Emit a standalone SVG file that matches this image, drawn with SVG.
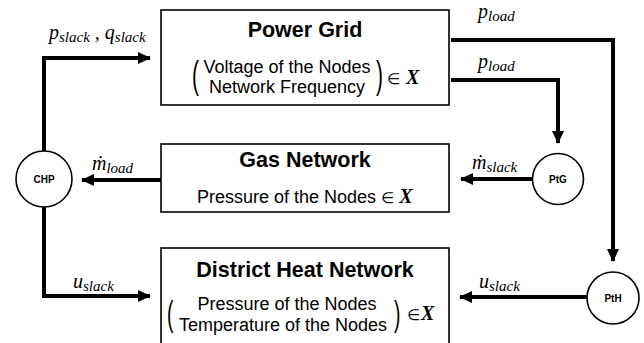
<svg xmlns="http://www.w3.org/2000/svg" width="644" height="343" viewBox="0 0 644 343">
<style>
.box{fill:#fff;stroke:#000;stroke-width:1.6}
.node{fill:#fff;stroke:#000;stroke-width:1.6}
.title{font-family:"Liberation Sans",Arial,sans-serif;font-weight:bold;font-size:21.5px;text-anchor:middle;fill:#000}
.body{font-family:"Liberation Sans",Arial,sans-serif;font-size:18px;fill:#000}
.par{font-family:"Liberation Sans",Arial,sans-serif;fill:#000}
.el{font-family:"DejaVu Sans",sans-serif;font-size:15px}
.X{font-family:"Liberation Serif",serif;font-weight:bold;font-style:italic;font-size:20px}
.small{font-family:"Liberation Sans",Arial,sans-serif;font-weight:bold;font-size:10px;text-anchor:middle;fill:#000}
.math{font-family:"Liberation Serif",serif;font-style:italic;font-size:20px;fill:#000}
.sub{font-size:15px}
.conn{fill:none;stroke:#000;stroke-width:4}
</style>
<defs>
<marker id="arr" markerUnits="userSpaceOnUse" markerWidth="14" markerHeight="12" refX="12" refY="6" orient="auto">
<path d="M0,0 L13,6 L0,12 Z" fill="#000"/>
</marker>
</defs>

<g id="connectors">
<path class="conn" d="M44,151 V58 H150" marker-end="url(#arr)"/>
<path class="conn" d="M44,207 V296 H150" marker-end="url(#arr)"/>
<path class="conn" d="M451,40 H613 V261" marker-end="url(#arr)"/>
<path class="conn" d="M451,80 H558 V143" marker-end="url(#arr)"/>
<path class="conn" d="M533,179 H461" marker-end="url(#arr)"/>
<path class="conn" d="M161,180 H82" marker-end="url(#arr)"/>
<path class="conn" d="M587,297 H460" marker-end="url(#arr)"/>
</g>

<g id="power-grid">
<rect class="box" x="161" y="10" width="288" height="95"/>
<text class="title" x="305" y="37">Power Grid</text>
<text class="par" font-size="38" transform="translate(192,88) scale(0.55,1)">(</text>
<text class="body" x="287" y="73" text-anchor="middle">Voltage of the Nodes</text>
<text class="body" x="287" y="93" text-anchor="middle">Network Frequency</text>
<text class="par" font-size="38" transform="translate(376,88) scale(0.55,1)">)</text>
<text x="387" y="84"><tspan class="el">∈</tspan><tspan class="X" x="406">X</tspan></text>
</g>

<g id="gas-network">
<rect class="box" x="161" y="144" width="288" height="68"/>
<text class="title" x="305" y="167">Gas Network</text>
<text class="body" x="197" y="203">Pressure of the Nodes <tspan class="el">∈</tspan> <tspan class="X">X</tspan></text>
</g>

<g id="district-heat-network">
<rect class="box" x="161" y="248" width="288" height="100"/>
<text class="title" x="305" y="277">District Heat Network</text>
<text class="par" font-size="35" transform="translate(167,326) scale(0.55,1)">(</text>
<text class="body" x="287" y="310" text-anchor="middle">Pressure of the Nodes</text>
<text class="body" x="283" y="331" text-anchor="middle">Temperature of the Nodes</text>
<text class="par" font-size="35" transform="translate(394,326) scale(0.55,1)">)</text>
<text x="407" y="320"><tspan class="el">∈</tspan><tspan class="X" x="421">X</tspan></text>
</g>

<g id="chp">
<circle class="node" cx="44" cy="179" r="28"/>
<text class="small" x="44" y="183">CHP</text>
</g>
<g id="ptg">
<circle class="node" cx="558" cy="179" r="25.5"/>
<text class="small" x="558" y="183">PtG</text>
</g>
<g id="pth">
<circle class="node" cx="613" cy="298" r="26"/>
<text class="small" x="613" y="302">PtH</text>
</g>

<g id="labels">
<text class="math" x="478" y="18">p<tspan class="sub" dy="3">load</tspan></text>
<text class="math" x="478" y="68">p<tspan class="sub" dy="3">load</tspan></text>
<text class="math" x="49" y="39">p<tspan class="sub" dy="3">slack</tspan><tspan dy="-3"> , q</tspan><tspan class="sub" dy="3">slack</tspan></text>
<text class="math" x="92" y="170">ṁ<tspan class="sub" dy="3">load</tspan></text>
<text class="math" x="472" y="169">ṁ<tspan class="sub" dy="3">slack</tspan></text>
<text class="math" x="73" y="288">u<tspan class="sub" dy="3">slack</tspan></text>
<text class="math" x="479" y="288">u<tspan class="sub" dy="3">slack</tspan></text>
</g>
</svg>
